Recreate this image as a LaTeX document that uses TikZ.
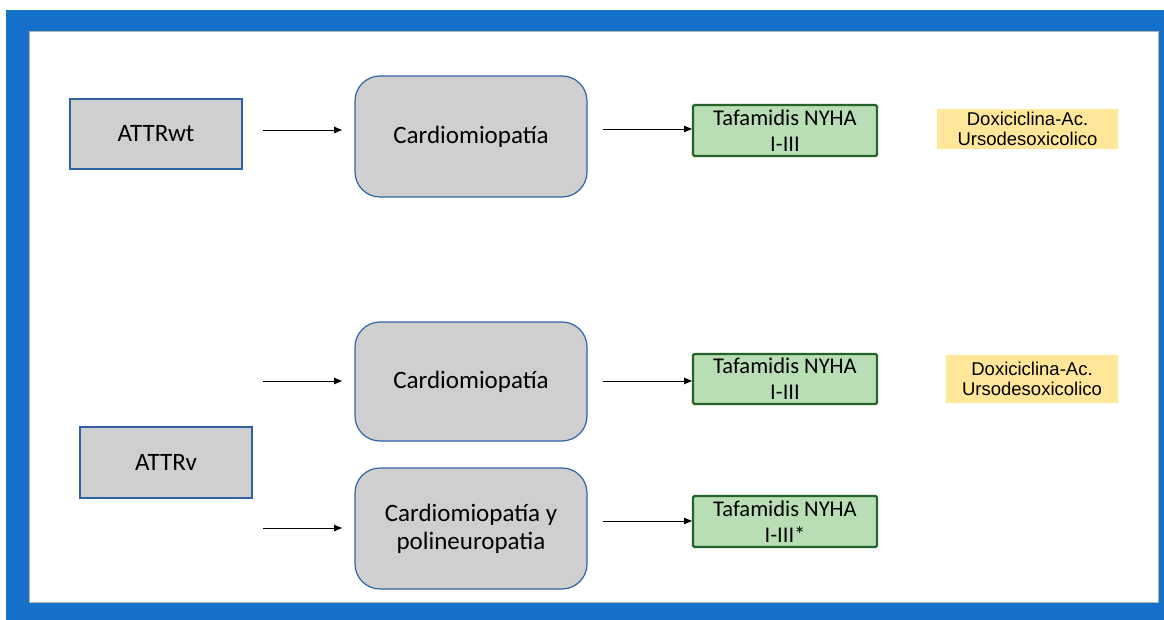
\documentclass[tikz,border=0pt]{standalone}
\usepackage{fontspec}
\setmainfont{Carlito}
\newfontfamily\arialf{Liberation Sans}
\usetikzlibrary{arrows.meta}
\definecolor{frameblue}{RGB}{20,112,200}
\definecolor{boxgray}{RGB}{207,207,207}
\definecolor{boxedge}{RGB}{46,100,166}
\definecolor{greenfill}{RGB}{185,222,181}
\definecolor{greenedge}{RGB}{36,99,42}
\definecolor{yellowfill}{RGB}{255,230,153}
\tikzset{
  sqbox/.style={draw=boxedge, fill=boxgray, line width=1.2pt, minimum width=172pt, inner sep=0pt, font=\fontsize{25}{29}\selectfont},
  rbox/.style={draw=boxedge, fill=boxgray, line width=1.2pt, rounded corners=25pt, minimum width=232pt, inner sep=0pt, align=center, font=\fontsize{25}{28}\selectfont},
  tbox/.style={draw=greenedge, fill=greenfill, line width=2.4pt, rounded corners=1.5pt, minimum width=184pt, inner sep=0pt, align=center, font=\fontsize{22.5}{26}\selectfont},
  ybox/.style={fill=yellowfill, inner sep=0pt, align=center, font=\arialf\fontsize{18.5}{20.5}\selectfont},
  arr/.style={-{Triangle[length=8pt,width=6.5pt]}, line width=0.9pt, black}
}
\begin{document}
\begin{tikzpicture}[x=1pt,y=-1pt]
\useasboundingbox (0,0) rectangle (1164,620);
\fill[frameblue] (6,10) rectangle (1164,620);
\fill[white] (29,31) rectangle (1158,602);
\draw[black!30, line width=0.5pt] (29,602) -- (29,31) -- (1158,31) -- (1158,602) -- cycle;

\node[sqbox, minimum height=70pt] (wt) at (156,134) {ATTRwt};
\node[rbox, minimum height=121pt] (c1) at (471,136.5) {Cardiomiopatía};
\node[tbox, minimum height=51pt] (t1) at (785,130.5) {Tafamidis NYHA\\I-III};
\node[ybox, minimum width=181pt, minimum height=40pt] (d1) at (1027.5,129) {Doxiciclina-Ac.\\Ursodesoxicolico};

\node[rbox, minimum height=119pt] (c2) at (471,381.5) {Cardiomiopatía};
\node[tbox, minimum height=50pt] (t2) at (785,379) {Tafamidis NYHA\\I-III};
\node[ybox, minimum width=172pt, minimum height=48pt] (d2) at (1032,379) {Doxiciclina-Ac.\\Ursodesoxicolico};

\node[sqbox, minimum height=71pt] (v) at (166,462.5) {ATTRv};
\node[rbox, minimum height=121pt] (c3) at (471,528.5) {Cardiomiopatía y\\polineuropatia};
\node[tbox, minimum height=51pt] (t3) at (785,521.5) {Tafamidis NYHA\\I-III*};

\coordinate (a1s) at (263,130); \coordinate (a1e) at (342,130);
\coordinate (b1s) at (603,129); \coordinate (b1e) at (692,129);
\coordinate (a2s) at (263,381); \coordinate (a2e) at (342,381);
\coordinate (b2s) at (603,381); \coordinate (b2e) at (692,381);
\coordinate (a3s) at (263,528); \coordinate (a3e) at (342,528);
\coordinate (b3s) at (603,521); \coordinate (b3e) at (692,521);

\draw[arr] (a1s) -- (a1e);
\draw[arr] (b1s) -- (b1e);
\draw[arr] (a2s) -- (a2e);
\draw[arr] (b2s) -- (b2e);
\draw[arr] (a3s) -- (a3e);
\draw[arr] (b3s) -- (b3e);
\end{tikzpicture}
\end{document}
